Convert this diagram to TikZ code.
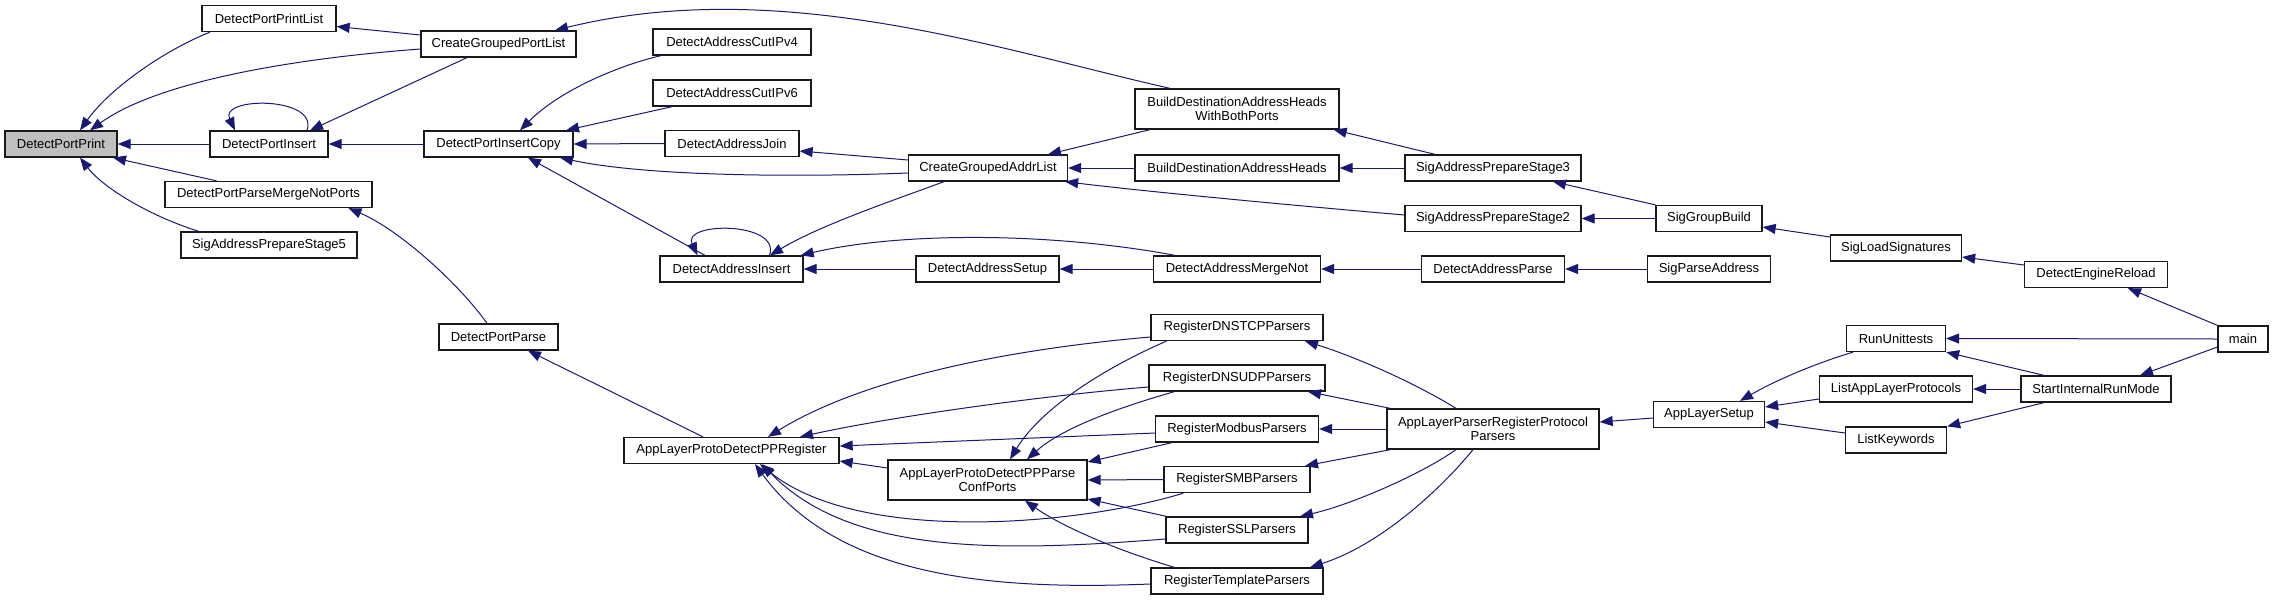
\documentclass[tikz,border=0pt]{standalone}
\usepackage{fontspec}
\setmainfont{Liberation Sans}
\usetikzlibrary{arrows.meta}
\definecolor{edgec}{RGB}{25,25,112}
\definecolor{focusc}{RGB}{191,191,191}
\newcommand\fsz{\fontsize{13pt}{14.5pt}\selectfont}
\tikzset{
  box/.style={draw=black!90, line width=1.3pt, fill=white, inner sep=0pt, font=\fsz, align=center, minimum height=26pt},
  tall/.style={minimum height=40pt},
  e/.style={draw=edgec, line width=1pt, -{Triangle[length=13pt,width=10pt]}, fill=none},
}
\begin{document}
\begin{tikzpicture}[x=1pt,y=-1pt]
\useasboundingbox (0,0) rectangle (2275,600);
% nodes
\node[box, fill=focusc, minimum width=112pt] (DPP) at (61,144) {DetectPortPrint};
\node[box, minimum width=134pt] (DPPL) at (269,18.5) {DetectPortPrintList};
\node[box, minimum width=155pt] (CGPL) at (498.5,44) {CreateGroupedPortList};
\node[box, minimum width=118pt] (DPI) at (269,144) {DetectPortInsert};
\node[box, minimum width=149pt] (DPIC) at (498.5,144) {DetectPortInsertCopy};
\node[box, minimum width=207pt] (DPPMNP) at (268.5,194.5) {DetectPortParseMergeNotPorts};
\node[box, minimum width=176pt] (SAPS5) at (269,245) {SigAddressPrepareStage5};
\node[box, minimum width=119pt] (DPParse) at (498.5,337) {DetectPortParse};
\node[box, minimum width=158pt] (DACv4) at (732,42) {DetectAddressCutIPv4};
\node[box, minimum width=158pt] (DACv6) at (732,93) {DetectAddressCutIPv6};
\node[box, minimum width=134pt] (DAJ) at (732,143.5) {DetectAddressJoin};
\node[box, minimum width=159pt] (CGAL) at (988,168) {CreateGroupedAddrList};
\node[box, minimum width=143pt] (DAI) at (731.5,269) {DetectAddressInsert};
\node[box, minimum width=143pt] (DAS) at (987.5,269) {DetectAddressSetup};
\node[box, tall, minimum width=204pt] (BDAHWBP) at (1237,109) {BuildDestinationAddressHeads\\WithBothPorts};
\node[box, minimum width=204pt] (BDAH) at (1237,168) {BuildDestinationAddressHeads};
\node[box, minimum width=176pt] (SAPS3) at (1493,168) {SigAddressPrepareStage3};
\node[box, minimum width=176pt] (SAPS2) at (1493,218.5) {SigAddressPrepareStage2};
\node[box, minimum width=106pt] (SGB) at (1709,218.5) {SigGroupBuild};
\node[box, minimum width=167pt] (DAMN) at (1237,269) {DetectAddressMergeNot};
\node[box, minimum width=143pt] (DAP) at (1493,269) {DetectAddressParse};
\node[box, minimum width=123pt] (SPA) at (1709,269) {SigParseAddress};
\node[box, minimum width=131pt] (SLS) at (1896,248) {SigLoadSignatures};
\node[box, minimum width=143pt] (DER) at (2096,274.5) {DetectEngineReload};
\node[box, minimum width=50pt] (MAIN) at (2243,339) {main};
\node[box, minimum width=99pt] (RU) at (1896,338.5) {RunUnittests};
\node[box, minimum width=153pt] (LALP) at (1896,389) {ListAppLayerProtocols};
\node[box, minimum width=150pt] (SIRM) at (2096,389) {StartInternalRunMode};
\node[box, minimum width=101pt] (LK) at (1896,440) {ListKeywords};
\node[box, minimum width=111pt] (ALS) at (1709,414.5) {AppLayerSetup};
\node[box, minimum width=215pt] (ALPDPPR) at (731.5,450.5) {AppLayerProtoDetectPPRegister};
\node[box, tall, minimum width=199pt] (ALPDPPPCP) at (987.5,480) {AppLayerProtoDetectPPParse\\ConfPorts};
\node[box, minimum width=172pt] (RDNSTCP) at (1237,327.5) {RegisterDNSTCPParsers};
\node[box, minimum width=176pt] (RDNSUDP) at (1237,378) {RegisterDNSUDPParsers};
\node[box, minimum width=163pt] (RMOD) at (1237,429) {RegisterModbusParsers};
\node[box, minimum width=146pt] (RSMB) at (1237,479.5) {RegisterSMBParsers};
\node[box, minimum width=142pt] (RSSL) at (1237,530) {RegisterSSLParsers};
\node[box, minimum width=172pt] (RTPL) at (1237,581) {RegisterTemplateParsers};
\node[box, tall, minimum width=212pt] (ALPRPP) at (1493,429) {AppLayerParserRegisterProtocol\\Parsers};
% edges
\draw[e] ([xshift=-59pt]DPPL.south) .. controls (165,50) and (110,88) .. ([xshift=19pt]DPP.north);
\draw[e] ([yshift=9pt]CGPL.west) -- ([yshift=-8pt]DPPL.east);
\draw[e] ([yshift=-5pt]CGPL.west) .. controls (300,58) and (160,80) .. ([xshift=29pt]DPP.north);
\draw[e] ([xshift=38pt]DPI.north) .. controls +(12,-34) and +(-16,-34) .. ([xshift=-34pt]DPI.north);
\draw[e] ([xshift=-31.5pt]CGPL.south) -- ([xshift=41pt]DPI.north);
\draw[e] (DPIC.west) -- (DPI.east);
\draw[e] (DPI.west) -- (DPP.east);
\draw[e] ([xshift=-52pt]DPPMNP.north) -- ([xshift=52pt]DPP.south);
\draw[e] ([xshift=-70pt]SAPS5.north) .. controls (155,218) and (105,190) .. ([xshift=19pt]DPP.south);
\draw[e] ([xshift=-11.5pt]DPParse.north) .. controls (460,285) and (400,230) .. ([xshift=80pt]DPPMNP.south);
\draw[e] ([xshift=-28.5pt]ALPDPPR.north) -- ([xshift=29.5pt]DPParse.south);
\draw[e] ([xshift=-67pt]BDAHWBP.north) .. controls (1000,50) and (780,-25) .. ([xshift=56.5pt]CGPL.north);
\draw[e] ([xshift=-71pt]DACv4.south) .. controls (620,65) and (560,90) .. ([xshift=21.5pt]DPIC.north);
\draw[e] ([xshift=-60pt]DACv6.south) -- ([xshift=67.5pt]DPIC.north);
\draw[e] (DAJ.west) -- (DPIC.east);
\draw[e] ([yshift=8pt]CGAL.west) -- ([yshift=-7.5pt]DAJ.east);
\draw[e] ([yshift=-5pt]CGAL.west) .. controls (780,178) and (640,175) .. ([xshift=61.5pt]DPIC.south);
\draw[e] ([xshift=-26.5pt]DAI.north) -- ([xshift=29.5pt]DPIC.south);
\draw[e] ([xshift=38pt]DAI.north) .. controls +(12,-34) and +(-16,-34) .. ([xshift=-34pt]DAI.north);
\draw[e] ([xshift=-44pt]CGAL.south) .. controls (900,198) and (820,225) .. ([xshift=38.5pt]DAI.north);
\draw[e] (DAS.west) -- (DAI.east);
\draw[e] ([xshift=-62pt]DAMN.north) .. controls (1050,232) and (900,232) .. ([xshift=-3pt]DAI.north east);
\draw[e] (DAMN.west) -- (DAS.east);
\draw[e] (DAP.west) -- (DAMN.east);
\draw[e] (SPA.west) -- (DAP.east);
\draw[e] ([xshift=-87pt]BDAHWBP.south) -- ([xshift=60pt]CGAL.north);
\draw[e] (BDAH.west) -- (CGAL.east);
\draw[e] ([yshift=3.5pt]SAPS2.west) .. controls (1300,206) and (1150,192) .. ([xshift=-3pt]CGAL.south east);
\draw[e] ([xshift=-58pt]SAPS3.north) -- ([xshift=-6pt]BDAHWBP.south east);
\draw[e] (SAPS3.west) -- (BDAH.east);
\draw[e] (SGB.north west) -- ([xshift=60pt]SAPS3.south);
\draw[e] (SGB.west) -- (SAPS2.east);
\draw[e] ([yshift=11pt]SLS.west) -- ([yshift=-8.5pt]SGB.east);
\draw[e] ([yshift=9.5pt]DER.west) -- ([yshift=-9pt]SLS.east);
\draw[e] (MAIN.north west) -- ([xshift=32pt]DER.south);
\draw[e] (MAIN.west) -- (RU.east);
\draw[e] ([yshift=-8pt]MAIN.west) -- ([xshift=44pt]SIRM.north);
\draw[e] ([xshift=-52pt]SIRM.north) -- (RU.south east);
\draw[e] (SIRM.west) -- (LALP.east);
\draw[e] ([xshift=-52pt]SIRM.south) -- (LK.north east);
\draw[e] ([xshift=-43pt]RU.south) .. controls (1820,362) and (1780,378) .. ([xshift=31pt]ALS.north);
\draw[e] ([yshift=-10pt]LALP.west) -- ([yshift=7.5pt]ALS.east);
\draw[e] ([yshift=7pt]LK.west) -- ([yshift=-7.5pt]ALS.east);
\draw[e] ([yshift=-3.5pt]ALS.west) -- ([yshift=7pt]ALPRPP.east);
\draw[e] ([xshift=-37pt]ALPRPP.north) .. controls (1410,380) and (1350,355) .. ([xshift=68pt]RDNSTCP.south);
\draw[e] ([xshift=4pt]ALPRPP.north west) -- ([xshift=71pt]RDNSUDP.south);
\draw[e] (ALPRPP.west) -- (RMOD.east);
\draw[e] ([xshift=4pt]ALPRPP.south west) -- ([xshift=68pt]RSMB.north);
\draw[e] ([xshift=-37pt]ALPRPP.south) .. controls (1420,475) and (1350,505) .. ([xshift=63pt]RSSL.north);
\draw[e] ([xshift=-20pt]ALPRPP.south) .. controls (1440,490) and (1380,545) .. ([xshift=73pt]RTPL.north);
% Register* -> ALPDPPR
\draw[e] ([yshift=-9.5pt]RDNSTCP.west) .. controls (1000,350) and (860,380) .. ([xshift=36.5pt]ALPDPPR.north);
\draw[e] ([yshift=-9pt]RDNSUDP.west) .. controls (1050,395) and (900,415) .. ([xshift=68.5pt]ALPDPPR.north);
\draw[e] ([yshift=-4pt]RMOD.west) -- ([yshift=4.5pt]ALPDPPR.east);
\draw[e] ([xshift=20pt]RSMB.south west) .. controls (1080,525) and (860,545) .. ([xshift=28.5pt]ALPDPPR.south);
\draw[e] ([yshift=-9pt]RSSL.west) .. controls (1000,552) and (850,555) .. ([xshift=30.5pt]ALPDPPR.south);
\draw[e] ([yshift=-3pt]RTPL.west) .. controls (1000,590) and (840,580) .. ([xshift=23.5pt]ALPDPPR.south);
% Register* -> ALPDPPPCP
\draw[e] ([xshift=16pt]RDNSTCP.south west) .. controls (1100,370) and (1040,410) .. ([xshift=22.5pt]ALPDPPPCP.north);
\draw[e] ([xshift=26pt]RDNSUDP.south west) .. controls (1110,410) and (1060,430) .. ([xshift=39.5pt]ALPDPPPCP.north);
\draw[e] ([xshift=17pt]RMOD.south west) -- ([yshift=18pt]ALPDPPPCP.east);
\draw[e] (RSMB.west) -- (ALPDPPPCP.east);
\draw[e] ([xshift=1pt]RSSL.north west) -- ([yshift=-19pt]ALPDPPPCP.east);
\draw[e] ([xshift=24pt]RTPL.north west) .. controls (1110,548) and (1060,525) .. ([xshift=37.5pt]ALPDPPPCP.south);
\draw[e] ([yshift=12pt]ALPDPPPCP.west) -- ([yshift=-10.5pt]ALPDPPR.east);
\end{tikzpicture}
\end{document}
